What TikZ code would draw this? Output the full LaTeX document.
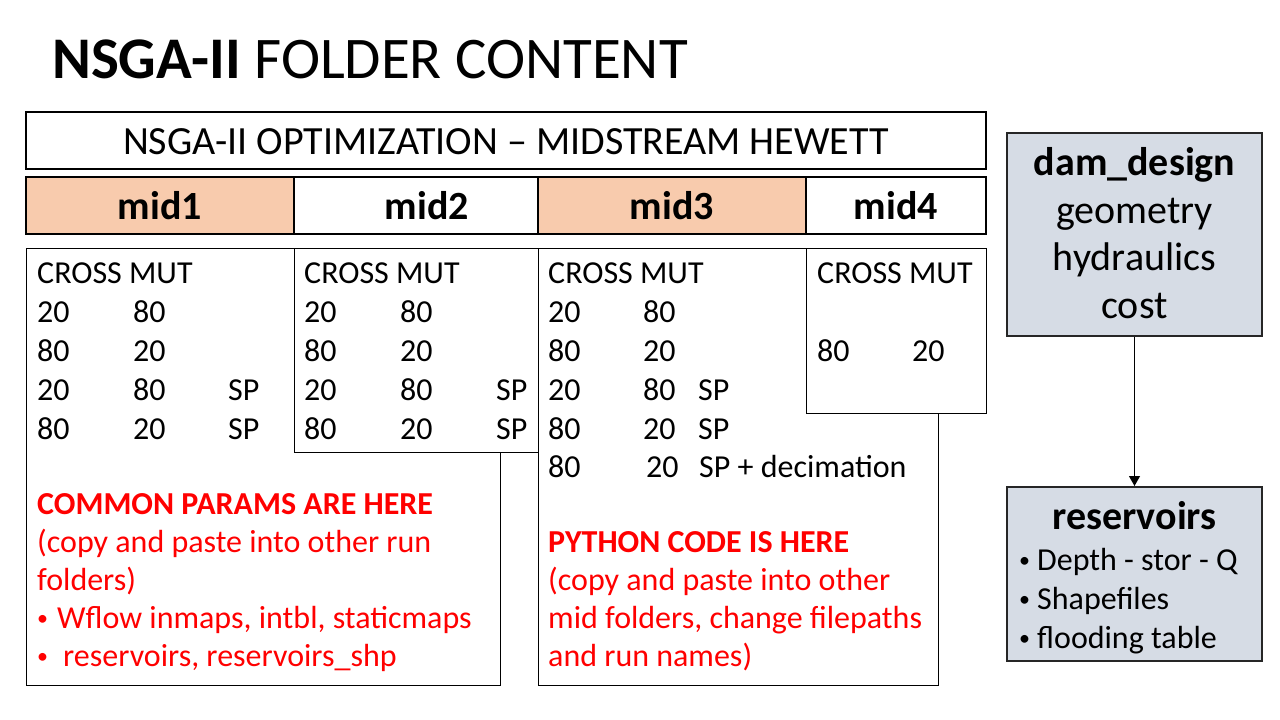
\documentclass[tikz,border=0pt]{standalone}
\usepackage{fontspec}
\setmainfont{Carlito}
\usetikzlibrary{arrows.meta}
\definecolor{peach}{HTML}{F8CBAD}
\definecolor{slate}{HTML}{D6DCE5}
\definecolor{alert}{HTML}{FF0000}
% small list bullet
\newcommand{\smallbul}[1]{\makebox[#1][l]{\raisebox{3pt}{\fontsize{22}{22}\selectfont •}}}

\begin{document}
\begin{tikzpicture}[x=1pt,y=-1pt,
  heavy/.style={draw=black,line width=2pt},
  thin/.style={draw=black,line width=1pt},
  txt/.style={anchor=base west,inner sep=0pt,font=\fontsize{32}{38}\selectfont},
  ctxt/.style={anchor=base,inner sep=0pt},
  redtxt/.style={txt,text=alert},
  redbold/.style={txt,text=alert,font=\fontsize{32}{38}\selectfont\bfseries},
  tablabel/.style={ctxt,font=\fontsize{40}{46}\selectfont\bfseries},
  sidebox/.style={draw=black!85,line width=2pt,fill=slate,inner sep=0pt,minimum width=255pt},
  sidetxt/.style={ctxt,font=\fontsize{40}{46}\selectfont},
  link/.style={draw=black,line width=1pt,-{Triangle[length=10pt,width=11pt]}}
]
\useasboundingbox (0,0) rectangle (1280,720);

% heading
\node[anchor=base west,inner sep=0pt,font=\fontsize{59}{66}\selectfont] (title) at (52,78)
  {\textbf{NSGA-II} FOLDER CONTENT};

% banner
\draw[heavy] (26,112) rectangle (986,169);
\node[ctxt,font=\fontsize{40}{46}\selectfont] (banner) at (506,154)
  {NSGA-II OPTIMIZATION – MIDSTREAM HEWETT};

% tab row
\fill[peach] (26,177) rectangle (294,234);
\fill[peach] (538,177) rectangle (806,234);
\draw[heavy] (26,177) rectangle (986,234);
\draw[heavy] (294,177) -- (294,234) (538,177) -- (538,234) (806,177) -- (806,234);
\node[tablabel] (tab1) at (160,219) {mid1};
\node[tablabel] (tab2) at (427,219) {mid2};
\node[tablabel] (tab3) at (672,219) {mid3};
\node[tablabel] (tab4) at (896,219) {mid4};

% folder panels
\draw[thin,fill=white] (26,248) rectangle (500,685);
\draw[thin,fill=white] (538,248) rectangle (938,685);
\draw[thin,fill=white] (294,248) rectangle (538,452);
\draw[thin,fill=white] (806,248) rectangle (986,413);

% mid1 settings
\node[txt] (m1hd) at (37,283) {CROSS MUT};
\foreach \r/\a/\b/\c [count=\k] in {322/20/80/, 361/80/20/, 400/20/80/SP, 439/80/20/SP} {
  \node[txt] (m1a\k) at (37,\r) {\a};
  \node[txt] (m1b\k) at (133,\r) {\b};
  \node[txt] (m1c\k) at (228,\r) {\c};
}
% mid2 settings
\node[txt] (m2hd) at (304,283) {CROSS MUT};
\foreach \r/\a/\b/\c [count=\k] in {322/20/80/, 361/80/20/, 400/20/80/SP, 439/80/20/SP} {
  \node[txt] (m2a\k) at (304,\r) {\a};
  \node[txt] (m2b\k) at (400,\r) {\b};
  \node[txt] (m2c\k) at (496,\r) {\c};
}
% mid3 settings
\node[txt] (m3hd) at (548,283) {CROSS MUT};
\foreach \r/\a/\b/\c [count=\k] in {322/20/80/, 361/80/20/, 400/20/80/SP, 439/80/20/SP} {
  \node[txt] (m3a\k) at (548,\r) {\a};
  \node[txt] (m3b\k) at (643,\r) {\b};
  \node[txt] (m3c\k) at (698,\r) {\c};
}
\node[txt] (m3a5) at (548,477) {80};
\node[txt] (m3b5) at (646,477) {20};
\node[txt] (m3c5) at (699,477) {SP + decimation};
% mid4 settings
\node[txt] (m4hd) at (817,283) {CROSS MUT};
\node[txt] (m4a1) at (817,361) {80};
\node[txt] (m4b1) at (912,361) {20};

% notes in mid1
\node[redbold] (n1a) at (37,514) {COMMON PARAMS ARE HERE};
\node[redtxt] (n1b) at (37,552) {(copy and paste into other run};
\node[redtxt] (n1c) at (37,590) {folders)};
\node[redtxt] (n1d) at (37,628) {\smallbul{20pt}Wflow inmaps, intbl, staticmaps};
\node[redtxt] (n1e) at (37,666) {\smallbul{26pt}reservoirs, reservoirs\_shp};

% notes in mid3
\node[redbold] (n3a) at (548,552) {PYTHON CODE IS HERE};
\node[redtxt] (n3b) at (548,590) {(copy and paste into other};
\node[redtxt] (n3c) at (548,628) {mid folders, change filepaths};
\node[redtxt] (n3d) at (548,666) {and run names)};

% side boxes
\node[sidebox,minimum height=203pt] (dam) at (1134.5,234.5) {};
\node[sidetxt,font=\fontsize{40}{46}\selectfont\bfseries] (dam1) at (1134.5,175) {dam\_design};
\node[sidetxt] (dam2) at (1134.5,223) {geometry};
\node[sidetxt] (dam3) at (1134.5,270) {hydraulics};
\node[sidetxt] (dam4) at (1134.5,318) {cost};

\node[sidebox,minimum height=174pt] (res) at (1134.5,574) {};
\node[sidetxt,font=\fontsize{40}{46}\selectfont\bfseries] (res1) at (1134.5,529) {reservoirs};
\node[txt] (res2) at (1019,570) {\smallbul{18pt}Depth - stor - Q};
\node[txt] (res3) at (1019,609) {\smallbul{18pt}Shapefiles};
\node[txt] (res4) at (1019,648) {\smallbul{18pt}flooding table};

\draw[link] (dam) -- (res);
\end{tikzpicture}
\end{document}
